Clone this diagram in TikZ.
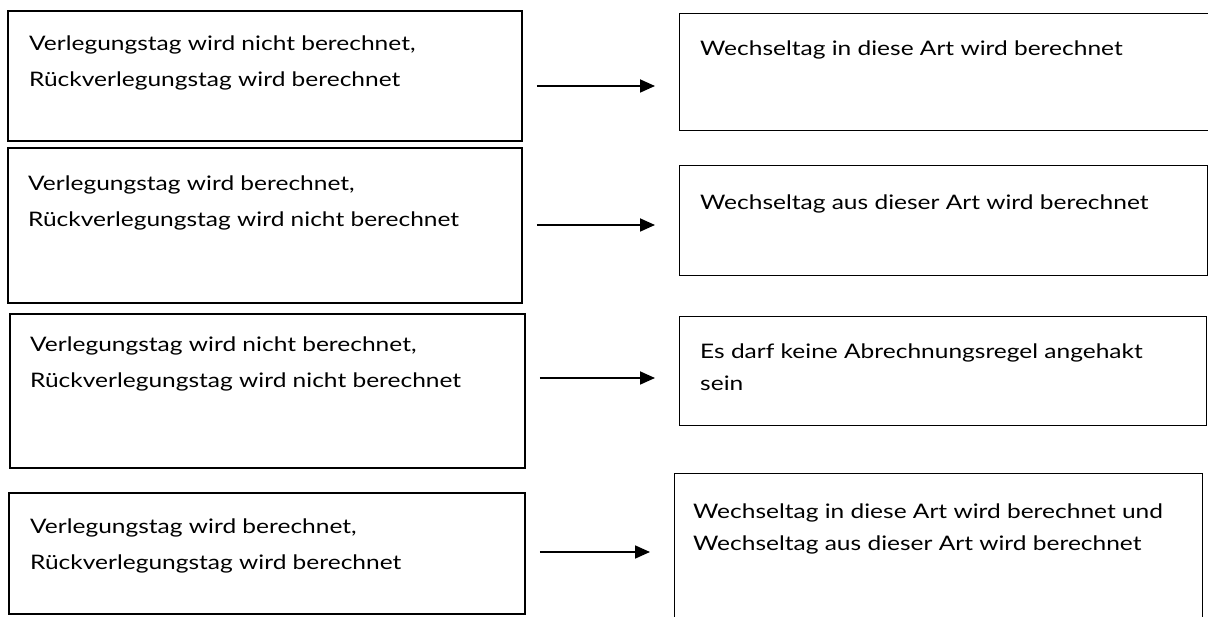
\documentclass[tikz,border=0pt]{standalone}
\usepackage{fontspec}
\setmainfont{Lato}[FakeStretch=1.225]
\usetikzlibrary{arrows.meta}
\tikzset{
  >={Triangle[length=15pt,width=13pt]},
}
\tikzstyle{leftbox}=[draw,line width=1.8pt,anchor=north west,inner sep=0pt]
\tikzstyle{rightbox}=[draw,line width=1.2pt,anchor=north west,inner sep=0pt]
\tikzstyle{lefttext}=[anchor=base west,align=left,inner sep=0pt,font=\fontsize{20}{36}\selectfont]
\tikzstyle{righttext}=[anchor=base west,align=left,inner sep=0pt,font=\fontsize{20}{32}\selectfont]
\tikzstyle{arrow}=[->,line width=1.8pt,shorten <=14pt,shorten >=24pt]

\begin{document}
\begin{tikzpicture}[x=1pt,y=-1pt]
    \useasboundingbox (0,0) rectangle (1208,617);
    \node[leftbox,minimum width=514pt,minimum height=130pt] (b1) at (7,10) {};
    \node[leftbox,minimum width=514pt,minimum height=155pt] (b2) at (7,147) {};
    \node[leftbox,minimum width=515pt,minimum height=154pt] (b3) at (9,313) {};
    \node[leftbox,minimum width=516pt,minimum height=121pt] (b4) at (8,492) {};
    \node[rightbox,minimum width=540pt,minimum height=117pt] (r1) at (679,13) {};
    \node[rightbox,minimum width=528pt,minimum height=110pt] (r2) at (679,165) {};
    \node[rightbox,minimum width=527pt,minimum height=109pt] (r3) at (679,316) {};
    \node[rightbox,minimum width=528pt,minimum height=160pt] (r4) at (674,473) {};
    \node[lefttext] (t1) at (29,87) {Verlegungstag wird nicht berechnet,\\Rückverlegungstag wird berechnet};
    \node[lefttext] (t2) at (28,227) {Verlegungstag wird berechnet,\\Rückverlegungstag wird nicht berechnet};
    \node[lefttext] (t3) at (30,388) {Verlegungstag wird nicht berechnet,\\Rückverlegungstag wird nicht berechnet};
    \node[lefttext] (t4) at (30,569) {Verlegungstag wird berechnet,\\Rückverlegungstag wird berechnet};
    \node[righttext] (s1) at (700,56) {Wechseltag in diese Art wird berechnet};
    \node[righttext] (s2) at (700,210) {Wechseltag aus dieser Art wird berechnet};
    \node[righttext] (s3) at (700,391) {Es darf keine Abrechnungsregel angehakt\\sein};
    \node[righttext] (s4) at (693,550) {Wechseltag in diese Art wird berechnet und\\Wechseltag aus dieser Art wird berechnet};
    \coordinate (a1) at (0,86);
    \coordinate (a2) at (0,225);
    \coordinate (a3) at (0,378);
    \coordinate (a4) at (0,552);
    \draw[arrow] (b1.east |- a1) -- (r1.west |- a1);
    \draw[arrow] (b2.east |- a2) -- (r2.west |- a2);
    \draw[arrow] (b3.east |- a3) -- (r3.west |- a3);
    \draw[arrow] (b4.east |- a4) -- (r4.west |- a4);
\end{tikzpicture}
\end{document}
